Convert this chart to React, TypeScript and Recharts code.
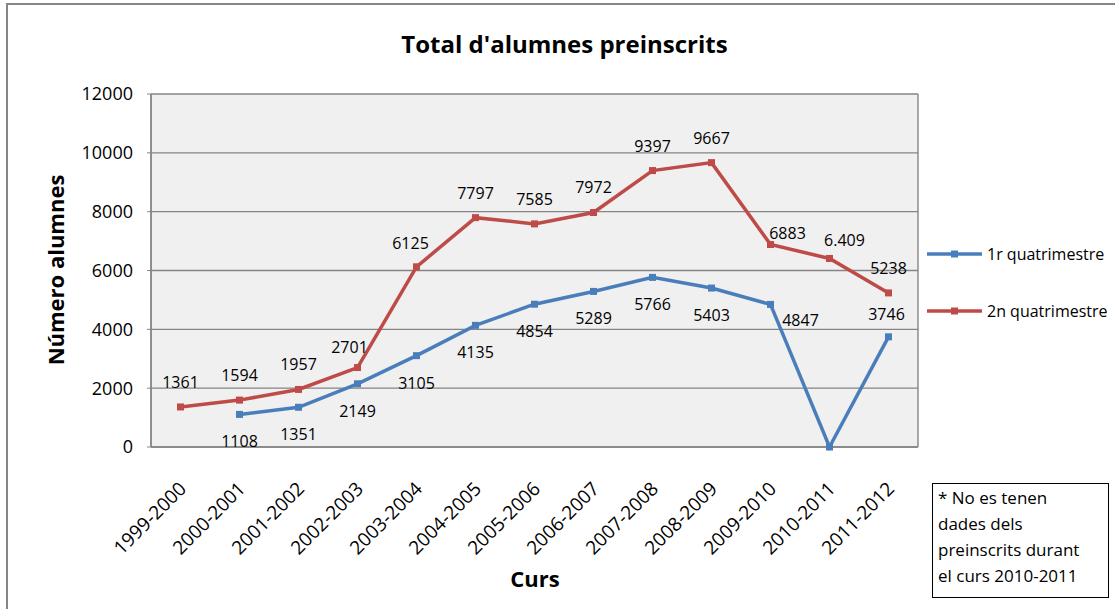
import { LineChart, Line, XAxis, YAxis, CartesianGrid, LabelList } from 'recharts';

const cursos = [
  '1999-2000', '2000-2001', '2001-2002', '2002-2003', '2003-2004', '2004-2005', '2005-2006',
  '2006-2007', '2007-2008', '2008-2009', '2009-2010', '2010-2011', '2011-2012',
];
const quad1 = [null, 1108, 1351, 2149, 3105, 4135, 4854, 5289, 5766, 5403, 4847, 0, 3746];
const quad2 = [1361, 1594, 1957, 2701, 6125, 7797, 7585, 7972, 9397, 9667, 6883, 6409, 5238];
const etiquetes1 = ['', '1108', '1351', '2149', '3105', '4135', '4854', '5289', '5766', '5403', '4847', '', '3746'];
const etiquetes2 = ['1361', '1594', '1957', '2701', '6125', '7797', '7585', '7972', '9397', '9667', '6883', '6.409', '5238'];
const yTicks = [0, 2000, 4000, 6000, 8000, 10000, 12000];

const FONT = '"Open Sans", "Noto Sans", sans-serif';
const BLUE = '#4a7ebb';
const RED = '#be4b48';

const data = cursos.map((c, i) => ({ curs: c, q1: quad1[i], q2: quad2[i] }));

// desplaçaments de les etiquetes respecte del punt (com a l'Excel)
const offsets1: Record<number, [number, number]> = { 10: [30, 16], 12: [-2, -23] };
const offsets2: Record<number, [number, number]> = {
  3: [-8, -21], 4: [-6, -24], 10: [17, -12], 11: [15, -18],
};

function makeLabel(texts: string[], defDy: number, offs: Record<number, [number, number]>) {
  return (props: any) => {
    const { x, y, index } = props;
    const t = texts[index];
    if (!t || x == null || y == null) return null;
    const [dx, dy] = offs[index] ?? [0, defDy];
    return (
      <text x={x + dx} y={y + dy} textAnchor="middle" dominantBaseline="central"
        fontFamily={FONT} fontSize={16} fill="#000">{t}</text>
    );
  };
}

function squareDot(color: string) {
  return (props: any) => {
    const { cx, cy, index } = props;
    if (cx == null || cy == null) return <g key={index} />;
    return <rect key={index} x={cx - 3.5} y={cy - 3.5} width={7} height={7} fill={color} />;
  };
}

function XTick(props: any) {
  const { x, y, payload } = props;
  return (
    <text x={x + 2} y={y + 30} transform={`rotate(-45, ${x + 2}, ${y + 30})`} textAnchor="end"
      dominantBaseline="central" fontFamily={FONT} fontSize={19} fill="#000">
      {payload.value}
    </text>
  );
}

export default function App() {
  return (
    <div style={{ position: 'absolute', left: 0, top: 0, width: 1115, height: 609, overflow: 'hidden', background: '#fff' }}>
      <div style={{
        position: 'absolute', left: 6, top: 3, width: 1130, height: 640,
        border: '2px solid #868686', boxSizing: 'border-box',
      }} />
      <LineChart width={1115} height={609} data={data} margin={{ top: 94, right: 197, bottom: 0, left: 0 }}
        style={{ position: 'absolute', left: 0, top: 0 }}>
        <CartesianGrid fill="#f0f0f0" stroke="#858585" strokeWidth={1.4}
          verticalCoordinatesGenerator={(p: any) => [p.offset.left, p.offset.left + p.offset.width]} />
        <XAxis dataKey="curs" height={162} padding={{ left: 29.5, right: 29.5 }} interval={0}
          axisLine={{ stroke: '#858585', strokeWidth: 1.4 }} tickLine={false} tick={<XTick />} />
        <YAxis width={151} domain={[0, 12000]} ticks={yTicks} interval={0}
          axisLine={{ stroke: '#858585', strokeWidth: 1.4 }} tickSize={4} tickMargin={14}
          tickLine={{ stroke: '#858585' }}
          tick={{ fontFamily: FONT, fontSize: 18, fill: '#000' }} />
        <Line type="linear" dataKey="q1" stroke={BLUE} strokeWidth={3.5} dot={squareDot(BLUE)}
          activeDot={false} isAnimationActive={false}>
          <LabelList dataKey="q1" content={makeLabel(etiquetes1, 27, offsets1)} />
        </Line>
        <Line type="linear" dataKey="q2" stroke={RED} strokeWidth={3.5} dot={squareDot(RED)}
          activeDot={false} isAnimationActive={false}>
          <LabelList dataKey="q2" content={makeLabel(etiquetes2, -25, offsets2)} />
        </Line>
      </LineChart>

      <div style={{
        position: 'absolute', left: 0, width: 1115, top: 28, textAlign: 'center',
        fontFamily: FONT, fontWeight: 700, fontSize: 24, lineHeight: '32px', paddingLeft: 14, boxSizing: 'border-box',
      }}>Total d'alumnes preinscrits</div>

      <div style={{
        position: 'absolute', left: 55, top: 270, transform: 'translate(-50%, -50%) rotate(-90deg)',
        fontFamily: FONT, fontWeight: 700, fontSize: 22, whiteSpace: 'nowrap',
      }}>Número alumnes</div>

      <div style={{
        position: 'absolute', left: 535, top: 578, transform: 'translate(-50%, -50%)',
        fontFamily: FONT, fontWeight: 700, fontSize: 22, whiteSpace: 'nowrap',
      }}>Curs</div>

      {[{ name: '1r quatrimestre', color: BLUE, y: 254 }, { name: '2n quatrimestre', color: RED, y: 311 }].map(l => (
        <div key={l.name} style={{ position: 'absolute', left: 927, top: l.y - 12, height: 24, display: 'flex', alignItems: 'center' }}>
          <svg width={56} height={10}>
            <line x1={0} y1={5} x2={55} y2={5} stroke={l.color} strokeWidth={3.5} />
            <rect x={24} y={1.5} width={7} height={7} fill={l.color} />
          </svg>
          <span style={{ marginLeft: 4, fontFamily: FONT, fontSize: 16, whiteSpace: 'nowrap' }}>{l.name}</span>
        </div>
      ))}

      <div style={{
        position: 'absolute', left: 932, top: 483, width: 177, height: 115, boxSizing: 'border-box',
        border: '1.5px solid #000', padding: '1px 0 0 5px',
        fontFamily: FONT, fontSize: 17, lineHeight: '26px', whiteSpace: 'nowrap',
      }}>
        * No es tenen<br />dades dels<br />preinscrits durant<br />el curs 2010-2011
      </div>
    </div>
  );
}
